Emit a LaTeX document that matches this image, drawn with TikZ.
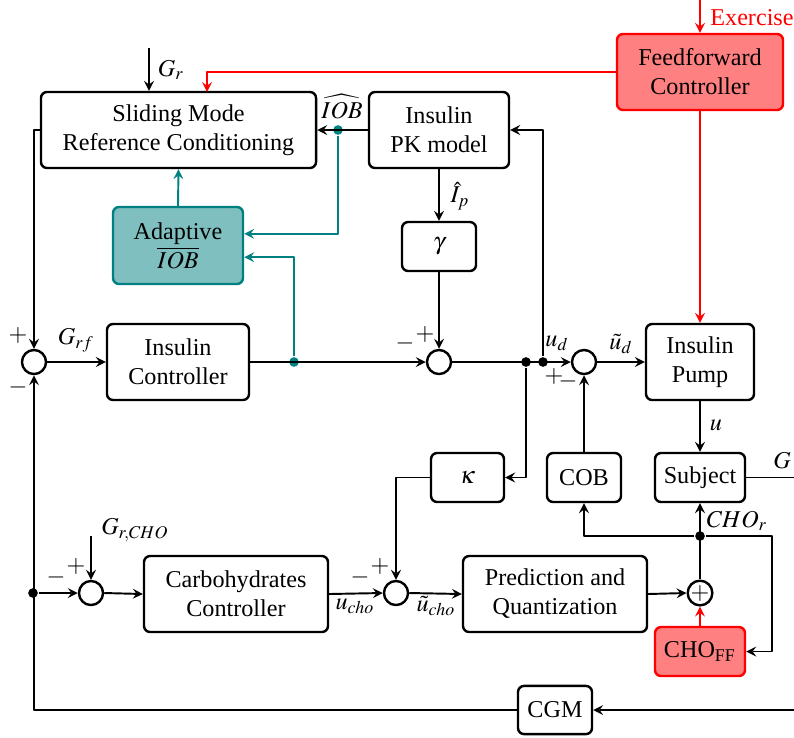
\documentclass[tikz,border=0pt]{standalone}
\usepackage{mathptmx}
\usepackage{fontspec}
\setmainfont{Liberation Serif}
\usetikzlibrary{calc}

\tikzset{
  block/.style={draw,line width=1pt,rounded corners=2.5pt,align=center,inner sep=1pt},
  ffblock/.style={block,draw=red,fill=red!50},
  adblock/.style={block,draw=teal,fill=teal!50},
  sumnode/.style={draw,line width=1pt,circle,minimum size=0.35cm,inner sep=0pt},
  dotnode/.style={circle,fill,inner sep=0pt,minimum size=4pt},
  sig/.style={inner sep=1pt}
}

\begin{document}
\begin{tikzpicture}[x=0.01454cm,y=-0.01454cm,>=stealth,line join=round,thick]
  \useasboundingbox (0,0) rectangle (794,737);
  % blocks
  \node[block,minimum width=4.0cm,minimum height=1.105cm] (slide) at (178.5,130) {Sliding Mode\\Reference Conditioning};
  \node[block,minimum width=2.036cm,minimum height=1.105cm] (pk) at (439,130) {Insulin\\PK model};
  \node[adblock,minimum width=1.89cm,minimum height=1.12cm] (adapt) at (178,245.5) {Adaptive\\$\overline{IOB}$};
  \node[ffblock,minimum width=2.414cm,minimum height=1.105cm] (ff) at (700,72) {Feedforward\\Controller};
  \node[block,minimum width=1.076cm,minimum height=0.712cm] (gam) at (439,246.5) {$\gamma$};
  \node[block,minimum width=2.065cm,minimum height=1.105cm] (ictrl) at (178,362) {Insulin\\Controller};
  \node[block,minimum width=1.57cm,minimum height=1.105cm] (pump) at (700,362) {Insulin\\Pump};
  \node[block,minimum width=1.061cm,minimum height=0.712cm] (kap) at (467.5,477.5) {$\kappa$};
  \node[block,minimum width=1.076cm,minimum height=0.712cm] (cob) at (584,477.5) {COB};
  \node[block,minimum width=1.309cm,minimum height=0.712cm] (subj) at (700,477.5) {Subject};
  \node[block,minimum width=2.675cm,minimum height=1.105cm] (cctrl) at (236,594) {Carbohydrates\\Controller};
  \node[block,minimum width=2.675cm,minimum height=1.105cm] (pred) at (555,594) {Prediction and\\Quantization};
  \node[ffblock,minimum width=1.309cm,minimum height=0.712cm] (choff) at (700,651.5) {CHO\textsubscript{FF}};
  \node[block,minimum width=1.076cm,minimum height=0.70cm] (cgm) at (555,710) {CGM};
  % summing junctions
  \node[sumnode] (s1) at (34,362) {};
  \node[sumnode] (s2) at (439,362) {};
  \node[sumnode] (s3) at (584,362) {};
  \node[sumnode] (s4) at (91,593) {};
  \node[sumnode] (s5) at (396,593) {};
  \node[sumnode] (splus) at (700,593) {$+$};
  % branch points
  \node[dotnode,teal] (iobdot) at (338,130) {};
  \node[dotnode,teal] (ctrldot) at (294,362) {};
  \node[dotnode] (udotA) at (526,362) {};
  \node[dotnode] (udotB) at (543,362) {};
  \node[dotnode] (chodot) at (700,536) {};
  \node[dotnode] (fbdot) at (33,593) {};
  \coordinate (grin) at (149,48);
  \coordinate (exin) at (700,0);
  \coordinate (ffturn) at (207,92);
  \coordinate (gcho) at (91,536);
  \coordinate (gout) at (794,477.5);
  \coordinate (cgmin) at (794,710);
  \coordinate (chor) at (772,536);

  % upper loop
  \draw[->] (grin) -- (grin |- slide.north);
  \draw[->,red] (exin) -- (ff.north);
  \draw[->,red] (ff.west) -| (ffturn);
  \draw[->,red] (ff.south) -- (pump.north);
  \draw[->] (pk.west) -- (slide.east);
  \draw[->,teal] (iobdot) |- ([yshift=0.17cm]adapt.east);
  \draw[->,teal] (ctrldot) |- ([yshift=-0.17cm]adapt.east);
  \draw[->,teal] (adapt.north) -- (slide.south);
  \draw[->] (slide.west) -| (s1.north);
  \draw[->] (s1.east) -- (ictrl.west);
  \draw[->] (ictrl.east) -- (s2.west);
  \draw[->] (pk.south) -- (gam.north);
  \draw[->] (gam.south) -- (s2.north);
  \draw[->] (s2.east) -- (s3.west);
  \draw[->] (udotB) |- (pk.east);
  \draw[->] (udotA) |- (kap.east);
  \draw[->] (s3.east) -- (pump.west);
  \draw[->] (pump.south) -- (subj.north);
  \draw[->] (cob.north) -- (s3.south);
  \draw (subj.east) -- (gout);
  % lower loop
  \draw[->] (kap.west) -| (s5.north);
  \draw[->] (gcho) -- (s4.north);
  \draw[->] (fbdot) -- (s4.west);
  \draw[->] (s4.east) -- (cctrl.west);
  \draw[->] (cctrl.east) -- (s5.west);
  \draw[->] (s5.east) -- (pred.west);
  \draw[->] (pred.east) -- (splus.west);
  \draw[->,red] (choff.north) -- (splus.south);
  \draw[->] (splus.north) -- (subj.south);
  \draw[->] (chodot) -| (cob.south);
  \draw[->] (chodot) -- (chor) |- (choff.east);
  \draw[->] (cgmin) -- (cgm.east);
  \draw[->] (cgm.west) -| (s1.south);

  % signal labels
  \node[sig] (grlbl) at (171,70) {$G_r$};
  \node[sig,red,anchor=west] (exlbl) at (707,18) {Exercise};
  \node[sig] (ioblbl) at (342,107) {$\widehat{IOB}$};
  \node[sig] (iplbl) at (460,196) {$\hat{I}_p$};
  \node[sig] (grflbl) at (76,340) {$G_{rf}$};
  \node[sig] (udlbl) at (557,343) {$u_d$};
  \node[sig] (tudlbl) at (621,344) {$\tilde{u}_d$};
  \node[sig] (ulbl) at (716,425) {$u$};
  \node[sig] (glbl) at (782,461) {$G$};
  \node[sig] (chorlbl) at (737,521) {$CHO_r$};
  \node[sig] (grcholbl) at (135,530) {$G_{r,CHO}$};
  \node[sig] (ucholbl) at (355,606) {$u_{cho}$};
  \node[sig] (tucholbl) at (436,606) {$\tilde{u}_{cho}$};
  % signs
  \node[sig] (p1) at (18,335) {$+$};
  \node[sig] (m1) at (18,387) {$-$};
  \node[sig] (m2) at (405,343) {$-$};
  \node[sig] (p2) at (425,334) {$+$};
  \node[sig] (p3) at (554,376) {$+$};
  \node[sig] (m3) at (568,381) {$-$};
  \node[sig] (m4) at (56,577) {$-$};
  \node[sig] (p4) at (76,566) {$+$};
  \node[sig] (m5) at (360,577) {$-$};
  \node[sig] (p5) at (380,566) {$+$};
\end{tikzpicture}
\end{document}
